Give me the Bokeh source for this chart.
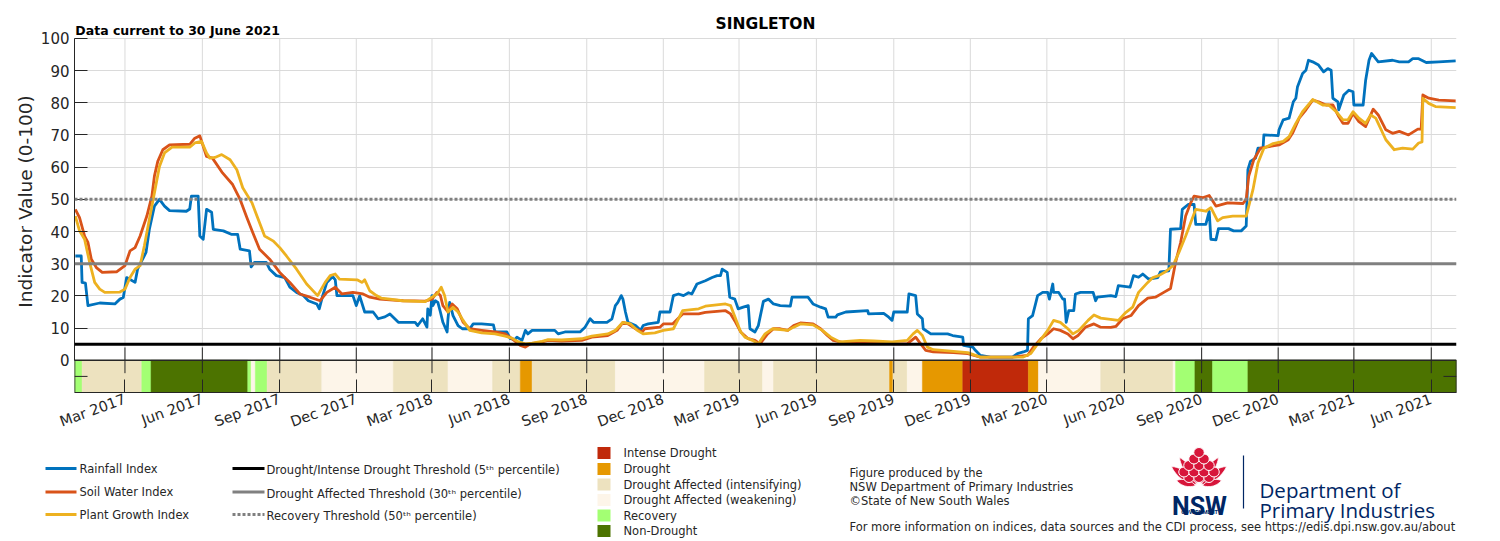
import math
import numpy as np
import pandas as pd
from bokeh.plotting import figure
from bokeh.models import Range1d, FixedTicker, DatetimeTickFormatter, Label, Span, ColumnDataSource
from bokeh.layouts import column
from bokeh.embed import file_html
from bokeh.resources import INLINE
from bokeh.core.properties import value

FONT = "DejaVu Sans"
INK = "#262626"
NAVY = "#002664"

# ---------------------------------------------------------------- data
station = "SINGLETON"
data_note = "Data current to 30 June 2021"
day0 = pd.Timestamp("2017-01-01")          # day offsets are counted from this date

rain_day = [0, 7, 8, 12, 15, 29, 47, 53, 57, 61, 71, 74, 84, 88, 94, 100, 106, 112, 132, 136,
            138, 146, 148, 152, 156, 162, 164, 176, 186, 193, 196, 207, 209, 213, 227, 231, 239,
            249, 255, 263, 271, 277, 287, 290, 294, 299, 306, 309, 311, 330, 334, 338, 344, 354,
            360, 368, 374, 384, 404, 407, 413, 418, 419, 422, 424, 425, 428, 431, 434, 437, 442,
            443, 445, 449, 455, 460, 469, 473, 483, 497, 499, 513, 517, 523, 525, 531, 535, 538,
            543, 570, 574, 582, 600, 606, 612, 616, 632, 638, 642, 645, 649, 651, 654, 657, 666,
            672, 675, 681, 693, 695, 707, 711, 717, 723, 729, 733, 739, 749, 757, 763, 767, 769,
            775, 778, 784, 788, 794, 800, 802, 808, 812, 818, 824, 830, 838, 850, 852, 871, 877,
            886, 892, 895, 904, 906, 916, 942, 943, 961, 967, 971, 973, 989, 991, 999, 1001, 1007,
            1008, 1017, 1037, 1043, 1055, 1056, 1067, 1070, 1076, 1088, 1114, 1120, 1127, 1132,
            1133, 1138, 1142, 1144, 1150, 1156, 1158, 1162, 1163, 1169, 1174, 1176, 1178, 1181,
            1187, 1189, 1195, 1210, 1213, 1215, 1231, 1237, 1240, 1254, 1258, 1264, 1269, 1276,
            1287, 1290, 1300, 1302, 1314, 1316, 1323, 1330, 1332, 1344, 1348, 1350, 1356, 1359,
            1371, 1377, 1386, 1392, 1394, 1397, 1403, 1406, 1412, 1413, 1430, 1431, 1436, 1443,
            1448, 1451, 1453, 1459, 1463, 1466, 1471, 1478, 1484, 1489, 1493, 1495, 1501, 1502,
            1508, 1514, 1519, 1520, 1531, 1534, 1538, 1541, 1549, 1566, 1574, 1585, 1590, 1597,
            1606, 1621, 1641]
rain_val = [32.4, 32.4, 24.2, 24.0, 17.0, 17.8, 17.5, 19.0, 19.5, 25.7, 24.2, 28.3, 33.5, 40.7,
            47.9, 50.0, 47.9, 46.5, 46.3, 47.0, 51.0, 51.0, 38.6, 37.6, 46.9, 46.0, 40.7, 40.2,
            39.1, 39.1, 34.5, 34.0, 29.0, 30.4, 30.4, 28.3, 26.3, 25.7, 22.7, 21.1, 20.1, 18.5,
            17.5, 16.0, 20.0, 24.2, 26.0, 25.0, 20.1, 20.1, 17.0, 20.0, 15.0, 15.0, 12.9, 13.5,
            14.4, 11.8, 11.8, 10.8, 12.9, 10.3, 16.0, 14.0, 20.1, 17.0, 18.5, 18.0, 15.0, 11.8,
            8.8, 12.9, 18.0, 13.9, 10.8, 9.8, 9.8, 11.3, 11.3, 11.0, 8.8, 8.8, 6.7, 6.5, 7.2, 6.2,
            9.3, 8.2, 9.3, 9.3, 8.2, 8.8, 8.8, 10.3, 12.9, 11.8, 11.8, 12.9, 17.0, 18.0, 20.1,
            19.0, 15.0, 11.8, 10.8, 9.3, 10.8, 11.3, 11.8, 15.0, 15.0, 20.1, 20.6, 20.1, 21.0,
            20.6, 23.7, 24.7, 25.7, 26.3, 26.3, 28.3, 27.3, 19.6, 19.0, 16.0, 16.5, 17.0, 9.8,
            8.8, 10.8, 18.3, 19.0, 17.5, 17.0, 16.8, 19.6, 19.6, 17.5, 16.5, 16.0, 13.4, 13.4,
            14.1, 15.0, 15.4, 14.4, 14.6, 13.4, 12.4, 15.0, 15.0, 20.6, 20.1, 14.4, 12.9, 9.8,
            8.2, 8.2, 7.7, 7.2, 4.6, 4.1, 3.1, 1.5, 1.0, 1.0, 2.1, 2.6, 3.1, 12.9, 13.9, 18.0,
            20.1, 21.1, 21.1, 19.0, 23.7, 21.1, 21.1, 19.0, 19.0, 11.8, 15.4, 15.4, 20.6, 21.1,
            21.1, 18.5, 19.6, 20.1, 19.8, 23.2, 22.7, 26.3, 25.8, 26.8, 25.2, 25.7, 27.5, 27.8,
            40.7, 40.9, 46.9, 48.4, 48.4, 42.2, 42.2, 46.3, 37.6, 37.4, 40.9, 40.9, 40.2, 40.2,
            41.7, 59.2, 61.8, 62.8, 65.9, 65.9, 70.0, 69.8, 71.6, 74.7, 75.2, 80.3, 81.4, 85.0,
            89.1, 90.1, 93.2, 92.7, 91.7, 89.6, 90.6, 90.1, 81.4, 80.3, 77.8, 82.4, 83.9, 83.4,
            79.3, 79.3, 87.0, 93.2, 95.3, 92.7, 93.2, 92.7, 92.7, 93.7, 93.7, 92.5, 92.7, 93.0]

soil_day = [0, 5, 11, 15, 19, 25, 32, 49, 59, 65, 71, 77, 85, 91, 94, 98, 104, 112, 136, 142,
            148, 156, 163, 175, 187, 196, 204, 211, 219, 231, 243, 255, 267, 279, 291, 299, 309,
            317, 330, 342, 350, 362, 374, 390, 416, 424, 430, 434, 437, 443, 448, 454, 461, 469,
            483, 499, 511, 519, 529, 535, 541, 555, 562, 578, 602, 614, 633, 644, 651, 657, 666,
            674, 677, 695, 699, 710, 722, 741, 749, 773, 779, 785, 791, 800, 808, 814, 823, 830,
            838, 847, 854, 862, 877, 886, 894, 901, 913, 933, 953, 973, 989, 999, 1005, 1011,
            1020, 1044, 1061, 1076, 1115, 1132, 1139, 1148, 1156, 1163, 1171, 1180, 1186, 1192,
            1201, 1211, 1219, 1231, 1237, 1245, 1255, 1264, 1275, 1284, 1294, 1302, 1308, 1314,
            1320, 1326, 1330, 1340, 1348, 1356, 1370, 1388, 1392, 1395, 1401, 1409, 1419, 1431,
            1442, 1447, 1455, 1463, 1471, 1478, 1487, 1495, 1502, 1507, 1513, 1519, 1526, 1534,
            1543, 1549, 1558, 1566, 1574, 1585, 1596, 1600, 1602, 1609, 1621, 1641]
soil_val = [46.9, 44.3, 38.6, 36.6, 31.4, 28.8, 27.3, 27.5, 29.4, 34.0, 35.0, 38.6, 44.8, 51.0,
            57.2, 61.8, 65.4, 66.9, 67.1, 69.0, 69.7, 63.3, 62.8, 58.2, 54.6, 49.9, 44.3, 39.6,
            34.5, 31.4, 27.3, 24.2, 20.6, 19.6, 18.5, 21.1, 22.7, 20.6, 21.1, 20.6, 19.6, 19.0,
            18.8, 18.5, 18.4, 19.0, 21.1, 20.1, 17.0, 15.0, 17.5, 16.0, 11.8, 9.8, 9.3, 8.8, 8.2,
            6.7, 4.6, 4.1, 5.1, 5.7, 6.2, 6.0, 6.2, 7.2, 7.7, 9.3, 11.8, 11.3, 9.8, 8.8, 9.8,
            10.3, 11.3, 11.3, 14.4, 14.4, 14.9, 15.4, 14.4, 11.8, 8.8, 6.7, 6.2, 5.1, 8.2, 9.8,
            9.8, 9.3, 10.8, 11.6, 11.3, 9.8, 7.7, 6.2, 5.5, 5.7, 5.5, 5.1, 5.1, 7.2, 5.1, 3.1,
            2.6, 2.4, 2.1, 1.0, 1.0, 1.5, 4.1, 6.7, 8.2, 9.8, 9.3, 8.2, 6.7, 7.7, 10.3, 11.3,
            10.3, 10.2, 10.5, 12.9, 13.9, 17.0, 19.3, 19.6, 21.1, 22.3, 30.4, 36.6, 44.8, 48.9,
            51.0, 50.5, 51.2, 47.9, 48.9, 48.7, 50.0, 57.2, 62.3, 65.9, 66.4, 66.9, 68.5, 70.5,
            75.2, 77.8, 80.8, 80.3, 79.3, 79.3, 75.7, 73.6, 73.6, 76.7, 74.1, 72.6, 78.0, 76.2,
            71.6, 70.5, 71.1, 70.0, 71.8, 71.8, 82.4, 81.4, 80.8, 80.6]

plant_day = [0, 5, 11, 17, 23, 29, 35, 53, 59, 65, 71, 77, 82, 88, 94, 100, 106, 115, 136, 142,
             150, 156, 160, 166, 174, 184, 192, 199, 210, 219, 225, 235, 243, 251, 263, 275, 288,
             297, 303, 309, 314, 335, 341, 344, 350, 358, 364, 389, 416, 424, 430, 435, 439, 443,
             449, 455, 461, 469, 483, 499, 511, 519, 527, 535, 543, 555, 562, 578, 602, 614, 633,
             642, 651, 660, 668, 675, 689, 699, 711, 722, 741, 749, 773, 779, 785, 791, 796, 805,
             812, 820, 829, 847, 854, 862, 877, 888, 898, 909, 933, 949, 971, 989, 996, 1001,
             1007, 1013, 1020, 1044, 1061, 1076, 1127, 1136, 1144, 1156, 1163, 1171, 1180, 1186,
             1193, 1204, 1211, 1219, 1240, 1249, 1257, 1264, 1275, 1281, 1288, 1296, 1305, 1312,
             1320, 1326, 1332, 1344, 1350, 1358, 1364, 1376, 1392, 1400, 1406, 1413, 1424, 1436,
             1443, 1451, 1459, 1471, 1483, 1490, 1499, 1507, 1513, 1519, 1526, 1534, 1540, 1546,
             1558, 1568, 1578, 1590, 1597, 1601, 1602, 1609, 1617, 1641]
plant_val = [44.8, 40.2, 37.6, 30.4, 24.2, 22.1, 21.1, 21.2, 22.1, 25.7, 28.3, 29.4, 35.5, 43.8,
             52.0, 60.2, 64.4, 66.2, 66.2, 67.5, 68.0, 64.4, 62.8, 63.0, 63.9, 62.3, 59.2, 53.6,
             48.9, 42.7, 38.6, 37.1, 35.0, 32.4, 28.3, 23.7, 20.1, 24.2, 26.3, 26.8, 25.2, 25.0,
             24.2, 25.0, 21.6, 20.1, 19.3, 18.5, 18.2, 19.6, 20.6, 22.7, 20.1, 15.0, 16.5, 15.0,
             12.4, 9.3, 8.5, 8.2, 7.5, 6.9, 5.7, 5.1, 5.3, 5.9, 6.4, 6.3, 6.7, 7.5, 8.2, 9.3, 11.8,
             11.3, 9.3, 8.2, 8.5, 9.3, 9.8, 15.4, 16.0, 16.8, 17.5, 17.0, 12.9, 8.8, 7.2, 6.2, 5.1,
             8.2, 9.8, 9.3, 10.3, 11.3, 11.0, 9.3, 7.2, 5.7, 6.2, 6.0, 5.7, 6.2, 8.2, 9.3, 7.7,
             4.1, 3.3, 2.8, 2.4, 1.0, 1.0, 2.1, 5.1, 9.3, 12.4, 11.8, 9.8, 8.2, 9.3, 12.4, 14.1,
             13.1, 12.4, 14.9, 16.5, 21.1, 24.2, 25.7, 26.3, 27.5, 29.4, 33.5, 38.6, 42.7, 46.9,
             46.3, 47.4, 43.3, 44.3, 44.8, 44.8, 53.0, 61.3, 65.9, 67.3, 68.0, 69.5, 73.6, 77.2,
             81.0, 79.3, 79.3, 77.2, 74.7, 74.7, 77.2, 75.2, 73.6, 76.2, 75.2, 68.5, 65.4, 65.9,
             65.6, 67.5, 67.8, 81.4, 79.8, 78.8, 78.5]

# CDI phase strip: first day of each phase and its category
phase_start = [-1, 8, 79, 90, 205, 209, 214, 228, 293, 378, 443, 496, 529, 543, 642, 748, 817,
               830, 968, 972, 989, 1007, 1055, 1133, 1145, 1219, 1305, 1308, 1331, 1352, 1394]
phase_name = ["Recovery", "Drought Affected (intensifying)", "Recovery", "Non-Drought",
              "Recovery", "Drought Affected (weakening)", "Recovery",
              "Drought Affected (intensifying)", "Drought Affected (weakening)",
              "Drought Affected (intensifying)", "Drought Affected (weakening)",
              "Drought Affected (intensifying)", "Drought", "Drought Affected (intensifying)",
              "Drought Affected (weakening)", "Drought Affected (intensifying)",
              "Drought Affected (weakening)", "Drought Affected (intensifying)", "Drought",
              "Drought Affected (intensifying)", "Drought Affected (weakening)", "Drought",
              "Intense Drought", "Drought", "Drought Affected (weakening)",
              "Drought Affected (intensifying)", "Drought Affected (weakening)", "Recovery",
              "Non-Drought", "Recovery", "Non-Drought"]
phase_end_day = 1642

phase_colors = {
    "Intense Drought": "#c0290a",
    "Drought": "#e69800",
    "Drought Affected (intensifying)": "#ede2bf",
    "Drought Affected (weakening)": "#fdf5e9",
    "Recovery": "#a3ff73",
    "Non-Drought": "#4c7300",
}

thresholds = [5, 30, 50]
tick_dates = ["2017-03-01", "2017-06-01", "2017-09-01", "2017-12-01", "2018-03-01",
              "2018-06-01", "2018-09-01", "2018-12-01", "2019-03-01", "2019-06-01",
              "2019-09-01", "2019-12-01", "2020-03-01", "2020-06-01", "2020-09-01",
              "2020-12-01", "2021-03-01", "2021-06-01"]

series = [("Rainfall Index", rain_day, rain_val, "#0072bd"),
          ("Soil Water Index", soil_day, soil_val, "#d95319"),
          ("Plant Growth Index", plant_day, plant_val, "#edb120")]


def to_dates(days):
    return day0 + pd.to_timedelta(np.asarray(days, dtype=float), unit="D")


def ms(ts):
    return pd.Timestamp(ts).value / 1e6


DAY_MS = 86400000

# ---------------------------------------------------------------- main chart
x_lo = ms(day0 - pd.Timedelta(days=1))
x_hi = ms(pd.Timestamp("2021-07-01"))
y_top = 108.65   # headroom above 100 holds the heading texts

p = figure(width=1500, height=440, x_axis_type="datetime",
           x_range=Range1d(x_lo, x_hi), y_range=Range1d(-10, y_top),
           output_backend="svg", toolbar_location=None,
           min_border_left=74, min_border_right=44, min_border_top=10, min_border_bottom=46)
p.outline_line_color = None
p.background_fill_color = "white"
p.border_fill_color = "white"
p.frame_align = False

tick_ms = [ms(t) for t in tick_dates]

# grid: vertical lines only over the 0-100 panel
p.xgrid.visible = False
p.ygrid.ticker = FixedTicker(ticks=list(range(10, 101, 10)))
p.ygrid.grid_line_color = "#dadada"
p.segment(x0=tick_ms, y0=[0] * len(tick_ms), x1=tick_ms, y1=[100] * len(tick_ms),
          line_color="#dadada", line_width=1)

# x axis
p.xaxis.ticker = FixedTicker(ticks=tick_ms)
p.xaxis.formatter = DatetimeTickFormatter(days="%b %Y", months="%b %Y", years="%b %Y")
p.xaxis.major_label_orientation = 0.35
p.xaxis.major_label_text_font = FONT
p.xaxis.major_label_text_font_size = "14.5px"
p.xaxis.major_label_text_color = INK
p.xaxis.major_label_standoff = 6
p.xaxis.major_tick_in = 13
p.xaxis.major_tick_out = 0
p.xaxis.minor_tick_line_color = None
p.xaxis.axis_line_color = INK
p.xaxis.major_tick_line_color = INK

# y axis (0-100 panel)
p.yaxis.bounds = (0, 100)
p.yaxis.ticker = FixedTicker(ticks=list(range(0, 101, 10)))
p.yaxis.major_label_text_font = FONT
p.yaxis.major_label_text_font_size = "15px"
p.yaxis.major_label_text_color = INK
p.yaxis.major_label_standoff = 5
p.yaxis.major_tick_in = 13
p.yaxis.major_tick_out = 0
p.yaxis.minor_tick_line_color = None
p.yaxis.axis_line_color = INK
p.yaxis.major_tick_line_color = INK
p.yaxis.axis_label = "Indicator Value (0-100)"
p.yaxis.axis_label_text_font = FONT
p.yaxis.axis_label_text_font_size = "18.5px"
p.yaxis.axis_label_text_font_style = "normal"
p.yaxis.axis_label_text_color = INK
p.yaxis.axis_label_standoff = 2

# phase strip
p_left = to_dates(phase_start)
p_right = to_dates(phase_start[1:] + [phase_end_day])
strip = ColumnDataSource(dict(left=p_left, right=p_right,
                              color=[phase_colors[n] for n in phase_name]))
p.quad(left="left", right="right", bottom=-10, top=0, fill_color="color",
       line_color="color", line_width=0.5, source=strip)

# index lines
for name, days, vals, col in series:
    p.line(to_dates(days), vals, line_color=col, line_width=2.8, line_join="round")

# thresholds and strip frame
p.add_layout(Span(location=thresholds[0], dimension="width", line_color="black", line_width=3))
p.add_layout(Span(location=thresholds[1], dimension="width", line_color="#808080", line_width=3))
p.add_layout(Span(location=thresholds[2], dimension="width", line_color="#808080", line_width=3,
                  line_dash="3 2"))
p.add_layout(Span(location=0, dimension="width", line_color=INK, line_width=1.6))

tick_len = 4.0  # y units, same length as the axis ticks
p.segment(x0=tick_ms, y0=[-tick_len] * len(tick_ms), x1=tick_ms, y1=[tick_len] * len(tick_ms),
          line_color=INK, line_width=1)
p.segment(x0=[x_lo, x_hi], y0=[-10, -10], x1=[x_lo, x_hi], y1=[0, 0],
          line_color=INK, line_width=1.6)
p.segment(x0=[x_lo, x_hi - 15.5 * DAY_MS], y0=[-5, -5], x1=[x_lo + 15.5 * DAY_MS, x_hi],
          y1=[-5, -5], line_color=INK, line_width=1)

# headings
p.add_layout(Label(x=(x_lo + x_hi) / 2, y=104.6, text=station, text_font=FONT,
                   text_font_size="15.5px", text_font_style="bold", text_color="black",
                   text_align="center", text_baseline="middle"))
p.add_layout(Label(x=x_lo + 1 * DAY_MS, y=102.5, text=data_note, text_font=FONT,
                   text_font_size="12.5px", text_font_style="bold", text_color="black",
                   text_align="left", text_baseline="middle"))

# ---------------------------------------------------------------- key panel
leg = figure(width=1500, height=101, x_range=Range1d(0, 1500), y_range=Range1d(541, 440),
             output_backend="svg", toolbar_location=None, min_border=0,
             x_axis_location=None, y_axis_location=None)
leg.frame_align = False
leg.outline_line_color = None
leg.xgrid.visible = False
leg.ygrid.visible = False
leg.background_fill_color = "white"
leg.border_fill_color = "white"

txt = dict(text_font=value(FONT), text_font_size="11.5px", text_color=INK,
           text_baseline="middle", text_align="left")

rows_y = [468, 491.5, 514]
for (name, _, _, col), y in zip(series, rows_y):
    leg.line([45, 76], [y, y], line_color=col, line_width=3)
leg.text(x=[79] * 3, y=rows_y, text=[s[0] for s in series], **txt)

thr_labels = ["Drought/Intense Drought Threshold (5\u1d57\u02b0 percentile)",
              "Drought Affected Threshold (30\u1d57\u02b0 percentile)",
              "Recovery Threshold (50\u1d57\u02b0 percentile)"]
leg.line([232, 264], [468, 468], line_color="black", line_width=3)
leg.line([232, 264], [491.5, 491.5], line_color="#808080", line_width=3)
leg.line([232, 264], [514, 514], line_color="#808080", line_width=3, line_dash="3 2")
leg.text(x=[266] * 3, y=[469.5, 493, 515.5], text=thr_labels, **txt)

key_names = list(phase_colors.keys())
key_y = [452.5, 468.5, 484, 499.5, 515, 530.5]
leg.rect(x=[603.5] * 6, y=key_y, width=13, height=12,
         fill_color=[phase_colors[n] for n in key_names], line_color=None)
leg.text(x=[623] * 6, y=key_y, text=key_names, **txt)

leg.text(x=[849] * 3, y=[472, 486, 500],
         text=["Figure produced by the", "NSW Department of Primary Industries",
               "\u00a9State of New South Wales"], **txt)
leg.text(x=[849], y=[526],
         text=["For more information on indices, data sources and the CDI process, "
               "see https://edis.dpi.nsw.gov.au/about"], **txt)

# NSW Government waratah mark
RED = "#d7153a"


def petal(bx, by, tx, ty, hw, n=14):
    L = math.hypot(tx - bx, ty - by)
    ux, uy = (tx - bx) / L, (ty - by) / L
    nx, ny = -uy, ux
    xs, ys = [], []
    ts = np.linspace(0, 1, n)
    for t in ts:
        w = hw * math.sin(math.pi * t) ** 0.8
        xs.append(bx + ux * L * t + nx * w)
        ys.append(by + uy * L * t + ny * w)
    for t in ts[::-1]:
        w = hw * math.sin(math.pi * t) ** 0.8
        xs.append(bx + ux * L * t - nx * w)
        ys.append(by + uy * L * t - ny * w)
    return xs, ys


bracts = [(1196, 484, 1171, 466, 4.2), (1195, 485, 1176, 480, 3.2),
          (1201, 484, 1226, 466, 4.2), (1202, 485, 1221, 480, 3.2),
          (1197, 483, 1179, 457, 3.6), (1200, 483, 1218, 457, 3.6)]
bx_list, by_list = [], []
for b in bracts:
    xs, ys = petal(*b)
    bx_list.append(xs)
    by_list.append(ys)
leg.patches(bx_list, by_list, fill_color=RED, line_color="white", line_width=0.8)

scale_rows = [(477, [1188.5, 1198.5, 1208.5]), (471.5, [1183.5, 1193.5, 1203.5, 1213.5]),
              (465, [1188.5, 1198.5, 1208.5]), (458.5, [1193.5, 1203.5]), (452, [1198.5])]
for yy, xs in scale_rows:
    leg.ellipse(x=xs, y=[yy] * len(xs), width=10.5, height=10, fill_color=RED,
                line_color="white", line_width=1)

leg.text(x=[1199], y=[506], text=["NSW"], text_font=value("Roboto"), text_font_size="25px",
         text_font_style="bold", text_color=NAVY, text_align="center",
         text_baseline="alphabetic")
leg.text(x=[1199], y=[511.5], text=["GOVERNMENT"], text_font=value("Roboto"),
         text_font_size="5.5px", text_font_style="bold", text_color=NAVY, text_align="center",
         text_baseline="middle")
leg.line([1243, 1243], [455, 508], line_color=NAVY, line_width=1.2)
leg.text(x=[1259, 1259], y=[489, 509.5], text=["Department of", "Primary Industries"],
         text_font=value("Open Sans"), text_font_size="20.5px", text_color=NAVY,
         text_align="left", text_baseline="alphabetic")

layout = column(p, leg, spacing=0)
open("out.html", "w").write(file_html(layout, INLINE, title="Singleton CDI"))
